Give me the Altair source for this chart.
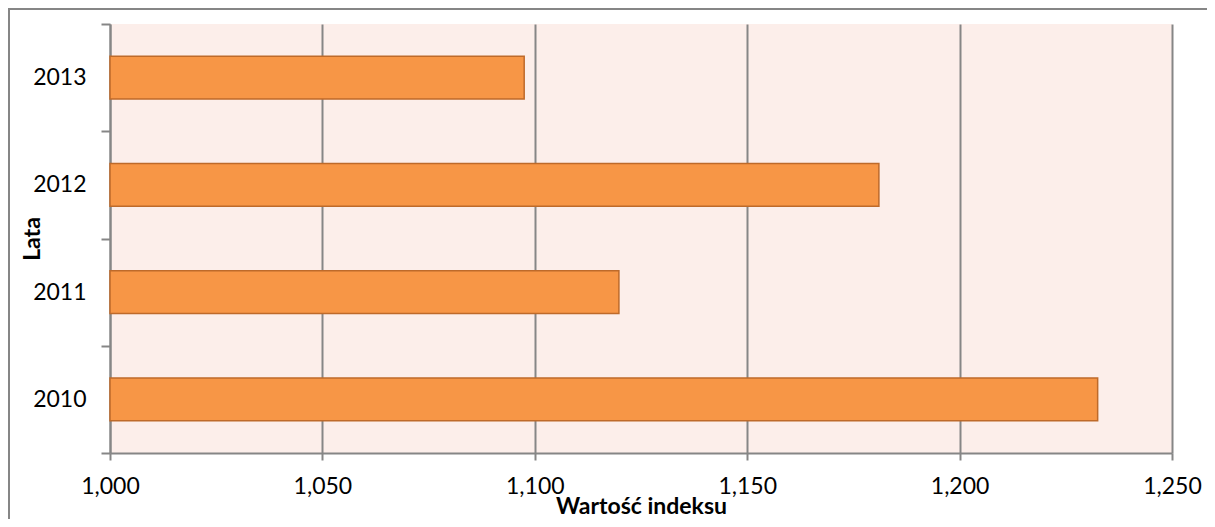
import altair as alt
import pandas as pd

years = ["2013", "2012", "2011", "2010"]
values = [1.0975, 1.181, 1.1198, 1.2325]
x_ticks = [1.0, 1.05, 1.1, 1.15, 1.2, 1.25]

df = pd.DataFrame({"Lata": years, "Wartosc": values})

W, H = 1062, 429
GRAY = "#868686"
FONT = "Lato"

bars = alt.Chart(df).mark_bar(
    height={"band": 0.4},
    color="#F79646",
    stroke="#BE6A2A",
    strokeWidth=1.5,
).encode(
    x=alt.X(
        "Wartosc:Q",
        scale=alt.Scale(domain=[1.0, 1.25], zero=False, nice=False),
        axis=alt.Axis(
            values=x_ticks,
            labelExpr="replace(format(datum.value, '.3f'), '.', ',')",
            title="Wartość indeksu",
            titleFont=FONT,
            titleFontSize=23,
            titleFontWeight="bold",
            titleColor="black",
            titleBaseline="alphabetic",
            titleY=60,
            labelFont=FONT,
            labelFontSize=23,
            labelColor="black",
            labelPadding=15,
            tickSize=7,
            tickColor=GRAY,
            tickWidth=2,
            domainColor=GRAY,
            domainWidth=2,
            grid=True,
            gridColor=GRAY,
            gridWidth=2,
            labelFlush=False,
        ),
    ),
    x2=alt.datum(1.0),
    y=alt.Y(
        "Lata:N",
        sort=years,
        scale=alt.Scale(paddingInner=0, paddingOuter=0),
        axis=alt.Axis(
            title="Lata",
            titleFont=FONT,
            titleFontSize=23,
            titleFontWeight="bold",
            titleColor="black",
            titleBaseline="alphabetic",
            titleX=-71,
            titleY=H / 2,
            labelFont=FONT,
            labelFontSize=23,
            labelColor="black",
            labelPadding=15,
            tickBand="extent",
            tickSize=9,
            tickColor=GRAY,
            tickWidth=2,
            domainColor=GRAY,
            domainWidth=2,
            grid=False,
        ),
    ),
)

frame = alt.Chart(alt.Data(values=[{"a": 1}])).mark_rect(
    filled=False, stroke=GRAY, strokeWidth=2, clip=False
).encode(
    x=alt.value(-101), x2=alt.value(W + 60),
    y=alt.value(-15), y2=alt.value(H + 100),
)

chart = alt.layer(bars, frame).properties(
    width=W,
    height=H,
    autosize=alt.AutoSizeParams(type="none"),
    padding={"left": 102, "top": 16, "right": 35, "bottom": 66},
    background="white",
).configure_view(
    fill="#FCEEEA",
    strokeWidth=0,
)

chart.save("out.html", embed_options={"renderer": "svg", "actions": False})
